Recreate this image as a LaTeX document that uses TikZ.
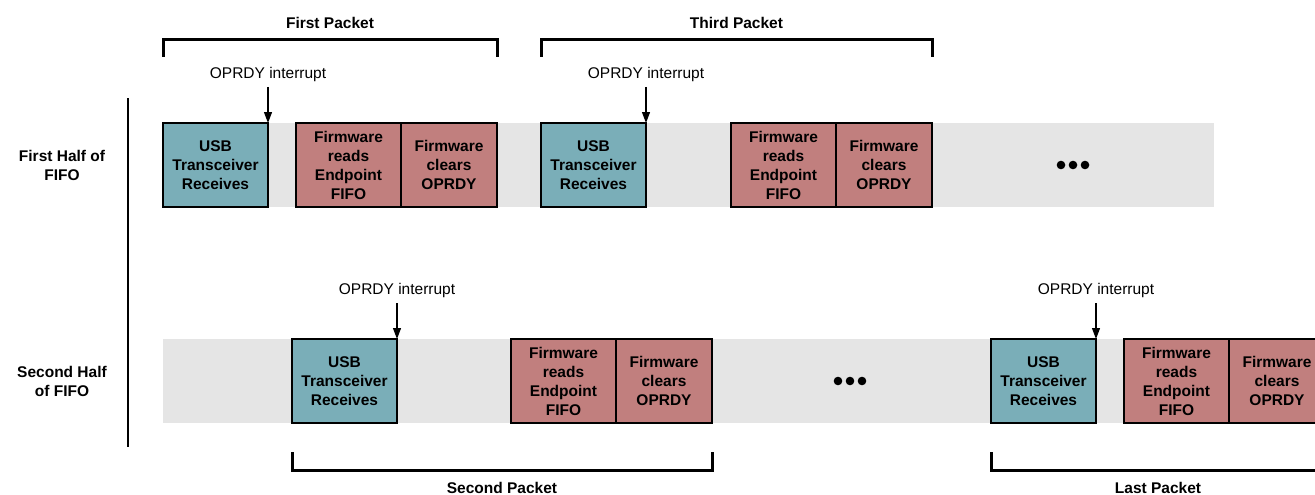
\documentclass[tikz,border=0pt]{standalone}
\usepackage{fontspec}
\setmainfont{Liberation Sans}
\usepackage{xcolor}
\usetikzlibrary{arrows.meta, positioning, backgrounds, calc}

\definecolor{usbteal}{HTML}{7AAEB8}
\definecolor{fwred}{HTML}{C17F7E}
\definecolor{bandgray}{HTML}{E5E5E5}

\tikzset{
    plaintext/.style={font=\fontsize{15.5}{19}\selectfont},
    boldtext/.style={font=\fontsize{15.5}{19}\selectfont\bfseries, align=center},
    usbbox/.style={boldtext, draw, fill=usbteal, line width=1.2pt, outer sep=0pt,
        minimum width=105pt, minimum height=84pt, inner sep=0pt},
    readbox/.style={usbbox, fill=fwred},
    clearbox/.style={readbox, minimum width=96pt},
    bracket/.style={line width=3pt},
    irq/.style={-{Triangle[length=11pt, width=8pt]}, line width=1.2pt}
}

\begin{document}
\begin{tikzpicture}[x=1pt, y=-1pt]
\useasboundingbox (0,0) rectangle (1315,495);
\clip (0,0) rectangle (1315,495);

% First half of FIFO
\node[usbbox] (usb1) at (215.5,165) {USB\\Transceiver\\Receives};
\node[readbox, right=28pt of usb1] (rd1) {Firmware\\reads\\Endpoint\\FIFO};
\node[clearbox, right=0pt of rd1] (clr1) {Firmware\\clears\\OPRDY};
\node[usbbox, right=44pt of clr1] (usb3) {USB\\Transceiver\\Receives};
\node[readbox, right=85pt of usb3] (rd3) {Firmware\\reads\\Endpoint\\FIFO};
\node[clearbox, right=0pt of rd3] (clr3) {Firmware\\clears\\OPRDY};
\coordinate (dots1) at (1073,165);

% Second half of FIFO
\node[usbbox] (usb2) at (344.5,381) {USB\\Transceiver\\Receives};
\node[readbox, right=114pt of usb2] (rd2) {Firmware\\reads\\Endpoint\\FIFO};
\node[clearbox, right=0pt of rd2] (clr2) {Firmware\\clears\\OPRDY};
\node[usbbox, right=279pt of clr2] (usb4) {USB\\Transceiver\\Receives};
\node[readbox, right=28pt of usb4] (rd4) {Firmware\\reads\\Endpoint\\FIFO};
\node[clearbox, right=0pt of rd4] (clr4) {Firmware\\clears\\OPRDY};
\coordinate (dots2) at (850,381);

% grey bands behind the boxes
\begin{scope}[on background layer]
    \fill[bandgray] (usb1.north west) rectangle (usb1.south -| 1214,0);
    \fill[bandgray] (usb1.west |- usb2.north) rectangle (usb2.south -| 1330,0);
\end{scope}

\foreach \d in {-12,0,12} {
    \fill ([xshift=\d pt]dots1) circle (4.3pt);
    \fill ([xshift=\d pt]dots2) circle (4.3pt);
}

% row labels
\node[boldtext] (half1) at (usb1 -| 62,0) {First Half of\\FIFO};
\node[boldtext] (half2) at (usb2 -| 62,0) {Second Half\\of FIFO};
\draw[line width=1.2pt] (128,98) -- (128,447);

% interrupts
\foreach \b in {usb1, usb2, usb3, usb4} {
    \coordinate (irq-\b) at ([yshift=36pt]\b.north east);
    \draw[irq] (irq-\b) -- (\b.north east);
    \node[plaintext, above=2pt of irq-\b] {OPRDY interrupt};
}

% packet brackets
\draw[bracket] (usb1.west |- 0,57) -- (usb1.west |- 0,40) -- (clr1.east |- 0,40) -- (clr1.east |- 0,57);
\draw[bracket] (usb3.west |- 0,57) -- (usb3.west |- 0,40) -- (clr3.east |- 0,40) -- (clr3.east |- 0,57);
\draw[bracket] (usb2.west |- 0,452) -- (usb2.west |- 0,470) -- (clr2.east |- 0,470) -- (clr2.east |- 0,452);
\draw[bracket] (usb4.west |- 0,452) -- (usb4.west |- 0,470) -- (clr4.east |- 0,470) -- (clr4.east |- 0,452);
\coordinate (pk1) at ($(usb1.west |- 0,40)!0.5!(clr1.east |- 0,40)$);
\coordinate (pk3) at ($(usb3.west |- 0,40)!0.5!(clr3.east |- 0,40)$);
\coordinate (pk2) at ($(usb2.west |- 0,470)!0.5!(clr2.east |- 0,470)$);
\coordinate (pk4) at ($(usb4.west |- 0,470)!0.5!(clr4.east |- 0,470)$);
\node[boldtext, above=8pt of pk1] (first) {First Packet};
\node[boldtext, above=8pt of pk3] (third) {Third Packet};
\node[boldtext, below=9pt of pk2] (second) {Second Packet};
\node[boldtext, below=9pt of pk4] (last) {Last Packet};

\end{tikzpicture}
\end{document}
